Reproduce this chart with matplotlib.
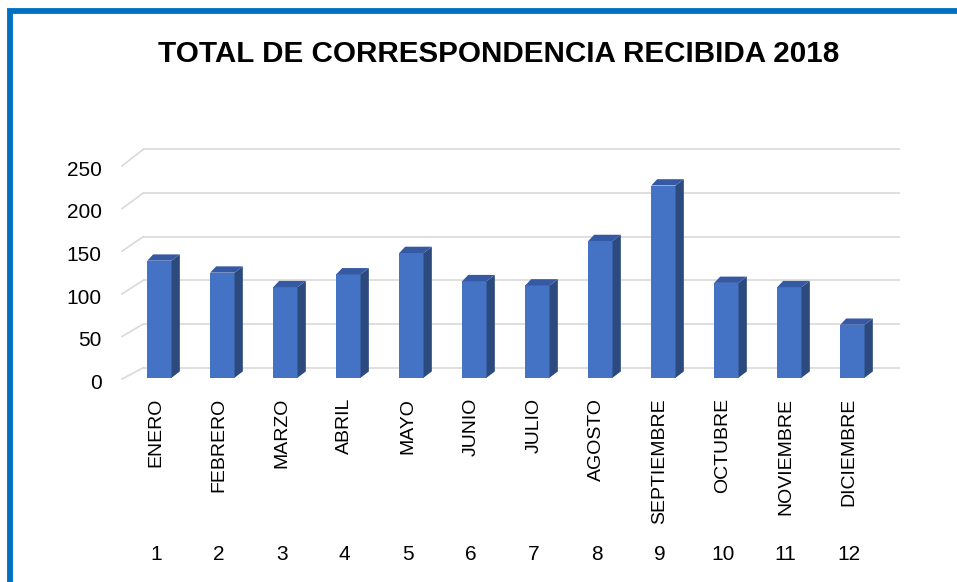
import matplotlib.pyplot as plt
from matplotlib.lines import Line2D
from matplotlib.patches import Polygon

meses = ["ENERO", "FEBRERO", "MARZO", "ABRIL", "MAYO", "JUNIO",
         "JULIO", "AGOSTO", "SEPTIEMBRE", "OCTUBRE", "NOVIEMBRE", "DICIEMBRE"]
numeros = [str(i) for i in range(1, 13)]
valores = [137, 123, 106, 121, 146, 113, 108, 160, 225, 111, 106, 62]
yticks = [0, 50, 100, 150, 200, 250]
titulo = "TOTAL DE CORRESPONDENCIA RECIBIDA 2018"

W, H = 957, 582
PX = 0.852            # pixels per value unit on the front plane
Y0 = 379              # pixel row of value 0 on the front plane

# pseudo 3d: back wall offset (x in categories, y in value units) and scale
BACK_DX, BACK_DY, BACK_S = 0.341, 13.3, 1.026
BAR_D = 0.11          # depth of the bar front faces (0 front .. 1 back)
BAR_W = 0.386
SIDE_DX, TOP_DX, SIDE_DY = 0.132, 0.095, 7.4

FRONT = "#4472C4"
SIDE = "#2D4A7E"
TOP = "#3659A3"
GRID = "#D9D9D9"

plt.rcParams["font.family"] = ["Liberation Sans", "DejaVu Sans"]

fig = plt.figure(figsize=(W / 100, H / 100), dpi=100)

# axes in pixel layout
ax_l, ax_r, ax_t, ax_b = 100, 920, 140, 390
ax = fig.add_axes([ax_l / W, (H - ax_b) / H, (ax_r - ax_l) / W, (ax_b - ax_t) / H])
ax.set_xlim(1 - (157 - ax_l) / 63, 1 + (ax_r - 157) / 63)
ax.set_ylim(-(ax_b - Y0) / PX, (Y0 - ax_t) / PX)
ax.axis("off")

x_front_left = 1 - (157 - 122) / 63
x_back_right = 1 + (900 - 157) / 63

# gridlines: back wall + diagonal on the left side wall
for v in yticks:
    yb = BACK_DY + BACK_S * v
    ax.plot([x_front_left + BACK_DX, x_back_right], [yb, yb], color=GRID, lw=1.2,
            solid_capstyle="butt", zorder=1)
    ax.plot([x_front_left, x_front_left + BACK_DX], [v, yb], color=GRID, lw=1.2, zorder=1)
    ax.text(x_front_left - 0.32, v - 5, str(v), ha="right", va="center", fontsize=15,
            color="#000000", clip_on=False)

# bars
s = 1 + BAR_D * (BACK_S - 1)
y_bot = BAR_D * BACK_DY
xs = [i + 1 + BAR_D * BACK_DX for i in range(len(valores))]
heights = [v * s for v in valores]
ax.bar(xs, heights, width=BAR_W, bottom=y_bot, color=FRONT, zorder=3)
for x, h in zip(xs, heights):
    xl, xr = x - BAR_W / 2, x + BAR_W / 2
    yt = y_bot + h
    side = Polygon([(xr, y_bot), (xr + SIDE_DX, y_bot + SIDE_DY),
                    (xr + SIDE_DX, yt + SIDE_DY), (xr, yt)],
                   closed=True, facecolor=SIDE, edgecolor="none", zorder=3)
    top = Polygon([(xl, yt), (xr, yt), (xr + SIDE_DX, yt + SIDE_DY),
                   (xl + TOP_DX, yt + SIDE_DY)],
                  closed=True, facecolor=TOP, edgecolor="none", zorder=3)
    ax.add_patch(side)
    ax.add_patch(top)

# category labels (two levels)
y_mes = (Y0 - 398) / PX
y_num = (Y0 - 555) / PX
for i, (m, n) in enumerate(zip(meses, numeros)):
    ax.text(i + 0.98, y_mes, m, rotation=90, ha="center", va="top", fontsize=14,
            color="#000000", clip_on=False)
    ax.text(i + 0.98, y_num, n, ha="center", va="center", fontsize=15,
            color="#000000", clip_on=False)

fig.text(499 / W, 1 - 54 / H, titulo, ha="center", va="center", fontsize=21.3,
         fontweight="bold", color="#000000")

# blue frame (top and left edges visible)
fig.add_artist(Line2D([9.7 / W, 9.7 / W, 1.0], [0.0, 1 - 10.5 / H, 1 - 10.5 / H],
                      transform=fig.transFigure, color="#0070C0", lw=4.2,
                      solid_joinstyle="miter"))

fig.savefig("out.png", dpi=100)
